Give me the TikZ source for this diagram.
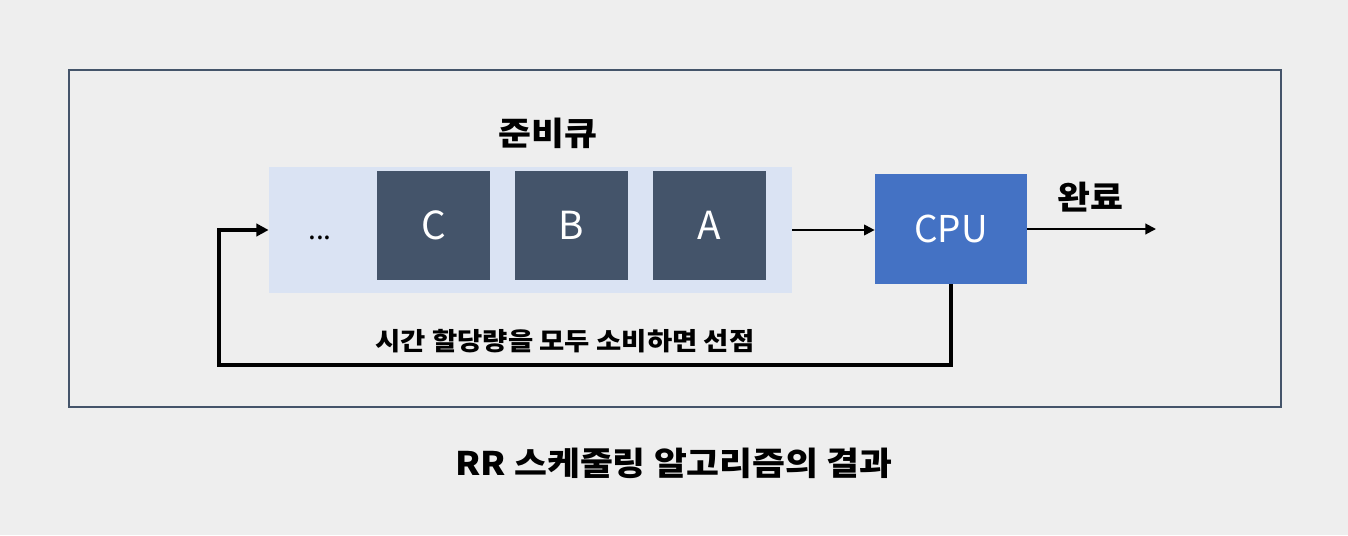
\documentclass[tikz,border=0pt]{standalone}
\usepackage{fontspec}
\usetikzlibrary{positioning,arrows.meta}
\usepackage{xcolor}
\newfontfamily\kr{Noto Sans CJK KR}
\newfontfamily\krwide{Noto Sans CJK KR}[FakeStretch=1.1]
\definecolor{pagegray}{RGB}{238,238,238}
\definecolor{framegray}{RGB}{68,84,106}
\definecolor{queueblue}{RGB}{218,227,243}
\definecolor{jobslate}{RGB}{68,84,106}
\definecolor{cpublue}{RGB}{68,114,196}

\begin{document}
\begin{tikzpicture}[
    jobbox/.style={fill=jobslate,text=white,minimum width=2.26cm,
                   minimum height=2.18cm,inner sep=0pt,font=\kr\fontsize{22}{24}\selectfont},
    heading/.style={text=black,font=\krwide\bfseries\fontsize{18.5}{20}\selectfont},
    flowthin/.style={line width=1.1pt,-{Triangle[length=6pt,width=6pt]}},
    flowthick/.style={line width=2.3pt,-{Triangle[length=7pt,width=7pt]}}
  ]
        \fill[pagegray] (0,0) rectangle (26.96,10.7);
        \useasboundingbox (0,0) rectangle (26.96,10.7);
        \draw[framegray,line width=0.8pt] (1.38,2.56) rectangle (25.62,9.3);
        \node[fill=queueblue,minimum width=10.46cm,minimum height=2.52cm,
              inner sep=0pt] (queue) at (10.61,6.1) {};
        \node[font=\kr\fontsize{16}{18}\selectfont] (dots) at (6.4,5.95) {...};
        \node[jobbox] (jobc) at (8.67,6.19) {C};
        \node[jobbox] (jobb) at (11.43,6.19) {B};
        \node[jobbox] (joba) at (14.19,6.19) {A};
        \node[heading] (title) at (10.96,8.04) {준비큐};
        \node[fill=cpublue,text=white,minimum width=3.04cm,minimum height=2.2cm,
              inner sep=0pt,font=\kr\fontsize{21}{24}\selectfont]
          (cpu) at (19.02,6.12) {CPU};
        \node[heading] (done) at (21.8,6.76) {완료};
        \coordinate (exit) at (23.12,6.12);
        \coordinate (turn) at (4.38,3.4);
        \node[font=\krwide\bfseries\fontsize{14.2}{16}\selectfont] (preempt)
          at (11.3,3.88) {시간 할당량을 모두 소비하면 선점};
        \node[heading] (caption) at (13.48,1.44) {RR 스케줄링 알고리즘의 결과};
        \draw[flowthin] (queue.east |- 0,6.1) -- (cpu.west |- 0,6.1);
        \draw[flowthin] (cpu.east) -- (exit);
        \draw[flowthick] (cpu.south) |- (turn) |- (queue.west);
      \end{tikzpicture}
\end{document}
